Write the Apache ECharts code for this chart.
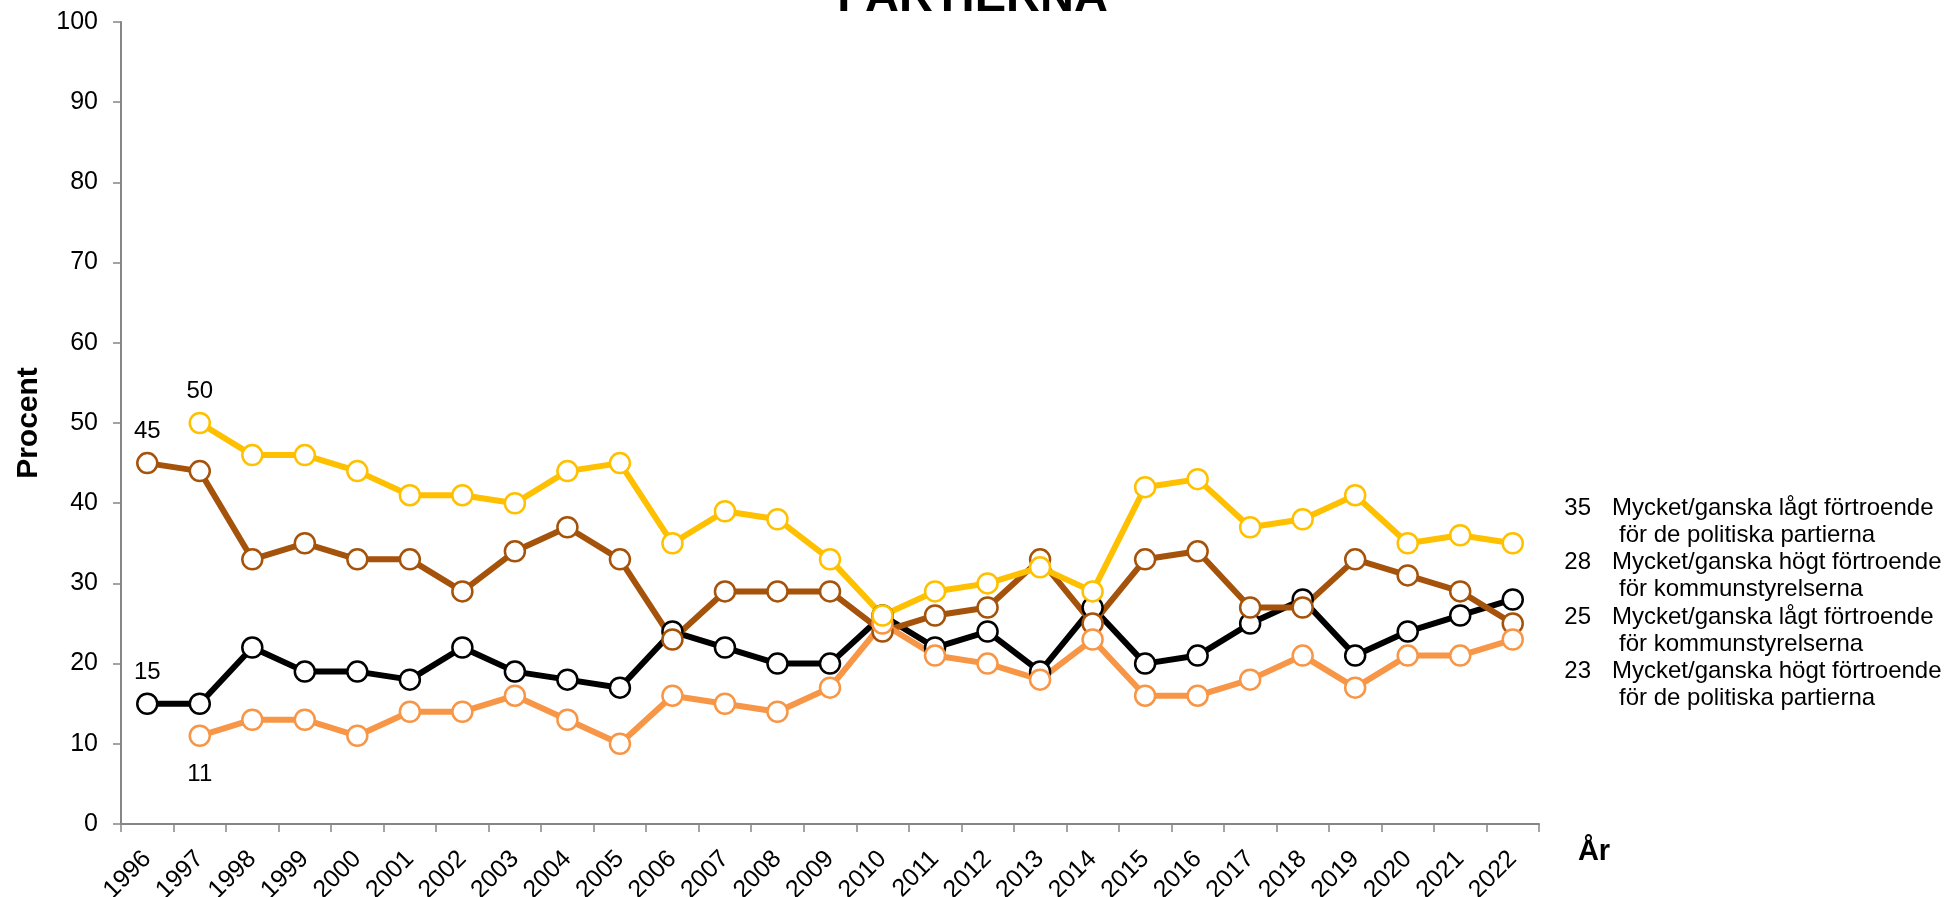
<!DOCTYPE html>
<html>
<head>
<meta charset="utf-8">
<script src="https://cdn.jsdelivr.net/npm/echarts@6/dist/echarts.min.js"></script>
<style>
  html, body { margin: 0; padding: 0; background: #fff; }
  #chart { width: 1945px; height: 897px; }
</style>
</head>
<body>
<div id="chart"></div>
<script>
  var years = ['1996', '1997', '1998', '1999', '2000', '2001', '2002', '2003', '2004', '2005',
    '2006', '2007', '2008', '2009', '2010', '2011', '2012', '2013', '2014', '2015',
    '2016', '2017', '2018', '2019', '2020', '2021', '2022'];

  // lågt förtroende för de politiska partierna (gul)
  var lagtPartier = [null, 50, 46, 46, 44, 41, 41, 40, 44, 45, 35, 39, 38, 33, 26, 29, 30, 32, 29, 42, 43, 37, 38, 41, 35, 36, 35];
  // högt förtroende för kommunstyrelserna (svart)
  var hogtKommun = [15, 15, 22, 19, 19, 18, 22, 19, 18, 17, 24, 22, 20, 20, 26, 22, 24, 19, 27, 20, 21, 25, 28, 21, 24, 26, 28];
  // lågt förtroende för kommunstyrelserna (brun)
  var lagtKommun = [45, 44, 33, 35, 33, 33, 29, 34, 37, 33, 23, 29, 29, 29, 24, 26, 27, 33, 25, 33, 34, 27, 27, 33, 31, 29, 25];
  // högt förtroende för de politiska partierna (orange)
  var hogtPartier = [null, 11, 13, 13, 11, 14, 14, 16, 13, 10, 16, 15, 14, 17, 25, 21, 20, 18, 23, 16, 16, 18, 21, 17, 21, 21, 23];

  var legendValues = ['35', '28', '25', '23'];
  var legendLines = [
    ['Mycket/ganska lågt förtroende', 'för de politiska partierna'],
    ['Mycket/ganska högt förtroende', 'för kommunstyrelserna'],
    ['Mycket/ganska lågt förtroende', 'för kommunstyrelserna'],
    ['Mycket/ganska högt förtroende', 'för de politiska partierna']
  ];

  var font = '"Liberation Sans", Arial, sans-serif';

  // första punkten i varje serie får ett värde-label
  function withFirstLabel(values, pos) {
    var first = values.findIndex(function (v) { return v !== null; });
    return values.map(function (v, i) {
      if (i !== first) return v;
      return {
        value: v,
        label: {
          show: true, position: pos, distance: pos === 'top' ? 8 : 15,
          color: '#000', fontSize: 24, fontFamily: font
        }
      };
    });
  }

  function makeSeries(name, values, color, pos) {
    return {
      name: name,
      type: 'line',
      data: withFirstLabel(values, pos),
      symbol: 'circle',
      symbolSize: 20,
      showAllSymbol: true,
      lineStyle: { color: color, width: 6 },
      itemStyle: { color: '#fff', borderColor: color, borderWidth: 2.5 },
      emphasis: { disabled: true }
    };
  }

  var graphics = [{
    type: 'text', x: 1594, y: 852,
    style: { text: 'År', font: 'bold 29px ' + font, fill: '#000', align: 'center', verticalAlign: 'middle' }
  }];
  for (var i = 0; i < legendValues.length; i++) {
    var y0 = 508 + i * 54.6;
    graphics.push({
      type: 'text', x: 1591, y: y0,
      style: { text: legendValues[i], font: '24px ' + font, fill: '#000', align: 'right', verticalAlign: 'middle' }
    });
    graphics.push({
      type: 'text', x: 1612, y: y0,
      style: { text: legendLines[i][0], font: '24px ' + font, fill: '#000', align: 'left', verticalAlign: 'middle' }
    });
    graphics.push({
      type: 'text', x: 1619, y: y0 + 27,
      style: { text: legendLines[i][1], font: '24px ' + font, fill: '#000', align: 'left', verticalAlign: 'middle' }
    });
  }

  var option = {
    animation: false,
    backgroundColor: '#fff',
    title: {
      text: 'PARTIERNA',
      left: 'center',
      top: -25,
      padding: 0,
      textStyle: { fontFamily: font, fontWeight: 'bold', fontSize: 47, color: '#000' }
    },
    grid: { left: 121, right: 406, top: 22, bottom: 73, outerBoundsMode: 'none' },
    xAxis: {
      type: 'category',
      data: years,
      boundaryGap: true,
      axisLine: { lineStyle: { color: '#868686', width: 2 } },
      axisTick: { show: true, length: 8, alignWithLabel: false, lineStyle: { color: '#868686', width: 1.5 } },
      axisLabel: { rotate: 45, margin: 31, interval: 0, color: '#000', fontSize: 25, fontFamily: font }
    },
    yAxis: {
      type: 'value',
      min: 0,
      max: 100,
      interval: 10,
      name: 'Procent',
      nameLocation: 'middle',
      nameRotate: 90,
      nameGap: 77,
      nameTextStyle: { fontFamily: font, fontWeight: 'bold', fontSize: 30, color: '#000' },
      splitLine: { show: false },
      axisLine: { show: true, lineStyle: { color: '#868686', width: 2 } },
      axisTick: { show: true, length: 8, lineStyle: { color: '#868686', width: 1.5 } },
      axisLabel: { margin: 23, color: '#000', fontSize: 25, fontFamily: font }
    },
    graphic: graphics,
    series: [
      makeSeries('Mycket/ganska högt förtroende för kommunstyrelserna', hogtKommun, '#000000', 'top'),
      makeSeries('Mycket/ganska lågt förtroende för kommunstyrelserna', lagtKommun, '#A5520B', 'top'),
      makeSeries('Mycket/ganska högt förtroende för de politiska partierna', hogtPartier, '#F79646', 'bottom'),
      makeSeries('Mycket/ganska lågt förtroende för de politiska partierna', lagtPartier, '#FFC000', 'top')
    ]
  };

  var chart = echarts.init(document.getElementById('chart'));
  chart.setOption(option);
</script>
</body>
</html>
